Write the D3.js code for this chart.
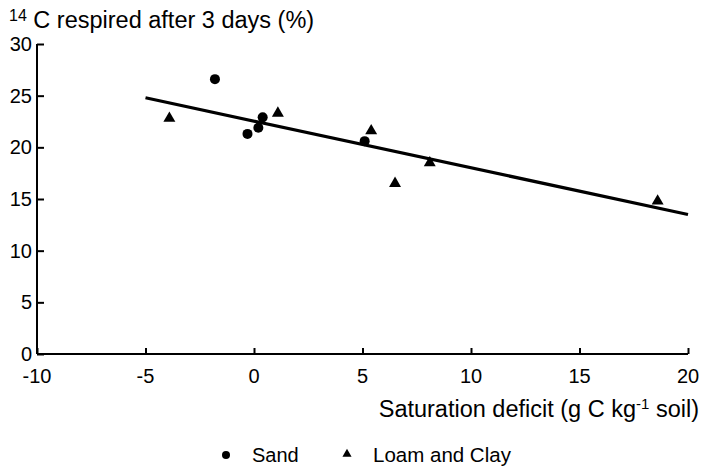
<!DOCTYPE html>
<html>
<head>
<meta charset="utf-8">
<script src="https://cdn.jsdelivr.net/npm/d3@7"></script>
<style>
  html, body { margin: 0; padding: 0; background: #fff; }
  svg { display: block; font-family: "Liberation Sans", Arial, Helvetica, sans-serif; }
</style>
</head>
<body>
<svg id="chart" width="705" height="473"></svg>
<script>
// Sand samples: saturation deficit (g C / kg soil) vs 14C respired after 3 days (%)
const sandX = [-1.8, -0.3, 0.2, 0.4, 5.1];
const sandY = [26.6, 21.3, 21.9, 22.9, 20.6];

// Loam and clay samples
const loamX = [-3.9, 1.1, 5.4, 6.5, 8.1, 18.6];
const loamY = [22.8, 23.3, 21.6, 16.5, 18.5, 14.8];

// Fitted regression line end points
const fitX = [-5, 20];
const fitY = [24.8, 13.5];

const xTicks = [-10, -5, 0, 5, 10, 15, 20];
const yTicks = [0, 5, 10, 15, 20, 25, 30];

const svg = d3.select("#chart");

const x = d3.scaleLinear().domain([-10, 20]).range([37, 688]);
const y = d3.scaleLinear().domain([0, 30]).range([354, 44]);

// Y axis, ticks pointing into the plot
const yAxis = svg.append("g")
  .attr("transform", `translate(${x(-10)},0)`)
  .call(d3.axisRight(y).tickValues(yTicks).tickSize(7).tickFormat(""));
yAxis.select(".domain").attr("stroke", "#000").attr("stroke-width", 2)
  .attr("d", `M0,${y(30)}V${y(0)}`);
yAxis.selectAll(".tick line").attr("stroke", "#000").attr("stroke-width", 2);

svg.append("g").selectAll("text").data(yTicks).join("text")
  .attr("x", 32).attr("y", d => y(d) + 7)
  .attr("text-anchor", "end")
  .attr("font-size", 20)
  .text(d => d);

// X axis, ticks pointing up into the plot
const xAxis = svg.append("g")
  .attr("transform", `translate(0,${y(0)})`)
  .call(d3.axisTop(x).tickValues(xTicks).tickSize(6).tickFormat(""));
xAxis.select(".domain").attr("stroke", "#000").attr("stroke-width", 2)
  .attr("d", `M${x(-10)},0H${x(20)}`);
xAxis.selectAll(".tick line").attr("stroke", "#000").attr("stroke-width", 2);

svg.append("g").selectAll("text").data(xTicks).join("text")
  .attr("x", d => x(d)).attr("y", y(0) + 29)
  .attr("text-anchor", "middle")
  .attr("font-size", 20)
  .text(d => d);

// Regression line
svg.append("line")
  .attr("x1", x(fitX[0])).attr("y1", y(fitY[0]))
  .attr("x2", x(fitX[1])).attr("y2", y(fitY[1]))
  .attr("stroke", "#000").attr("stroke-width", 3.2);

// Sand points
svg.append("g").selectAll("circle").data(sandX).join("circle")
  .attr("cx", d => x(d)).attr("cy", (d, i) => y(sandY[i]))
  .attr("r", 5).attr("fill", "#000");

// Loam and clay points
const tri = d3.symbol().type(d3.symbolTriangle).size(62);
svg.append("g").selectAll("path").data(loamX).join("path")
  .attr("d", tri)
  .attr("transform", (d, i) => `translate(${x(d)},${y(loamY[i])})`)
  .attr("fill", "#000");

// Y axis title
const yt = svg.append("text").attr("x", 9).attr("y", 28).attr("font-size", 23.5);
yt.append("tspan").attr("font-size", 16).attr("dy", -7).text("14");
yt.append("tspan").attr("dy", 7).text(" C respired after 3 days (%)");

// X axis title
const xt = svg.append("text").attr("x", 699).attr("y", 417)
  .attr("text-anchor", "end").attr("font-size", 23.5);
xt.append("tspan").text("Saturation deficit (g C kg");
xt.append("tspan").attr("font-size", 15).attr("dy", -8).text("-1");
xt.append("tspan").attr("dy", 8).text(" soil)");

// Legend
const legY = 455;
svg.append("circle").attr("cx", 226).attr("cy", legY).attr("r", 4).attr("fill", "#000");
svg.append("text").attr("x", 252).attr("y", legY + 7).attr("font-size", 20).text("Sand");
svg.append("path").attr("d", d3.symbol().type(d3.symbolTriangle).size(36))
  .attr("transform", `translate(${347},${legY - 1})`).attr("fill", "#000");
svg.append("text").attr("x", 373).attr("y", legY + 7).attr("font-size", 20.5).text("Loam and Clay");
</script>
</body>
</html>
